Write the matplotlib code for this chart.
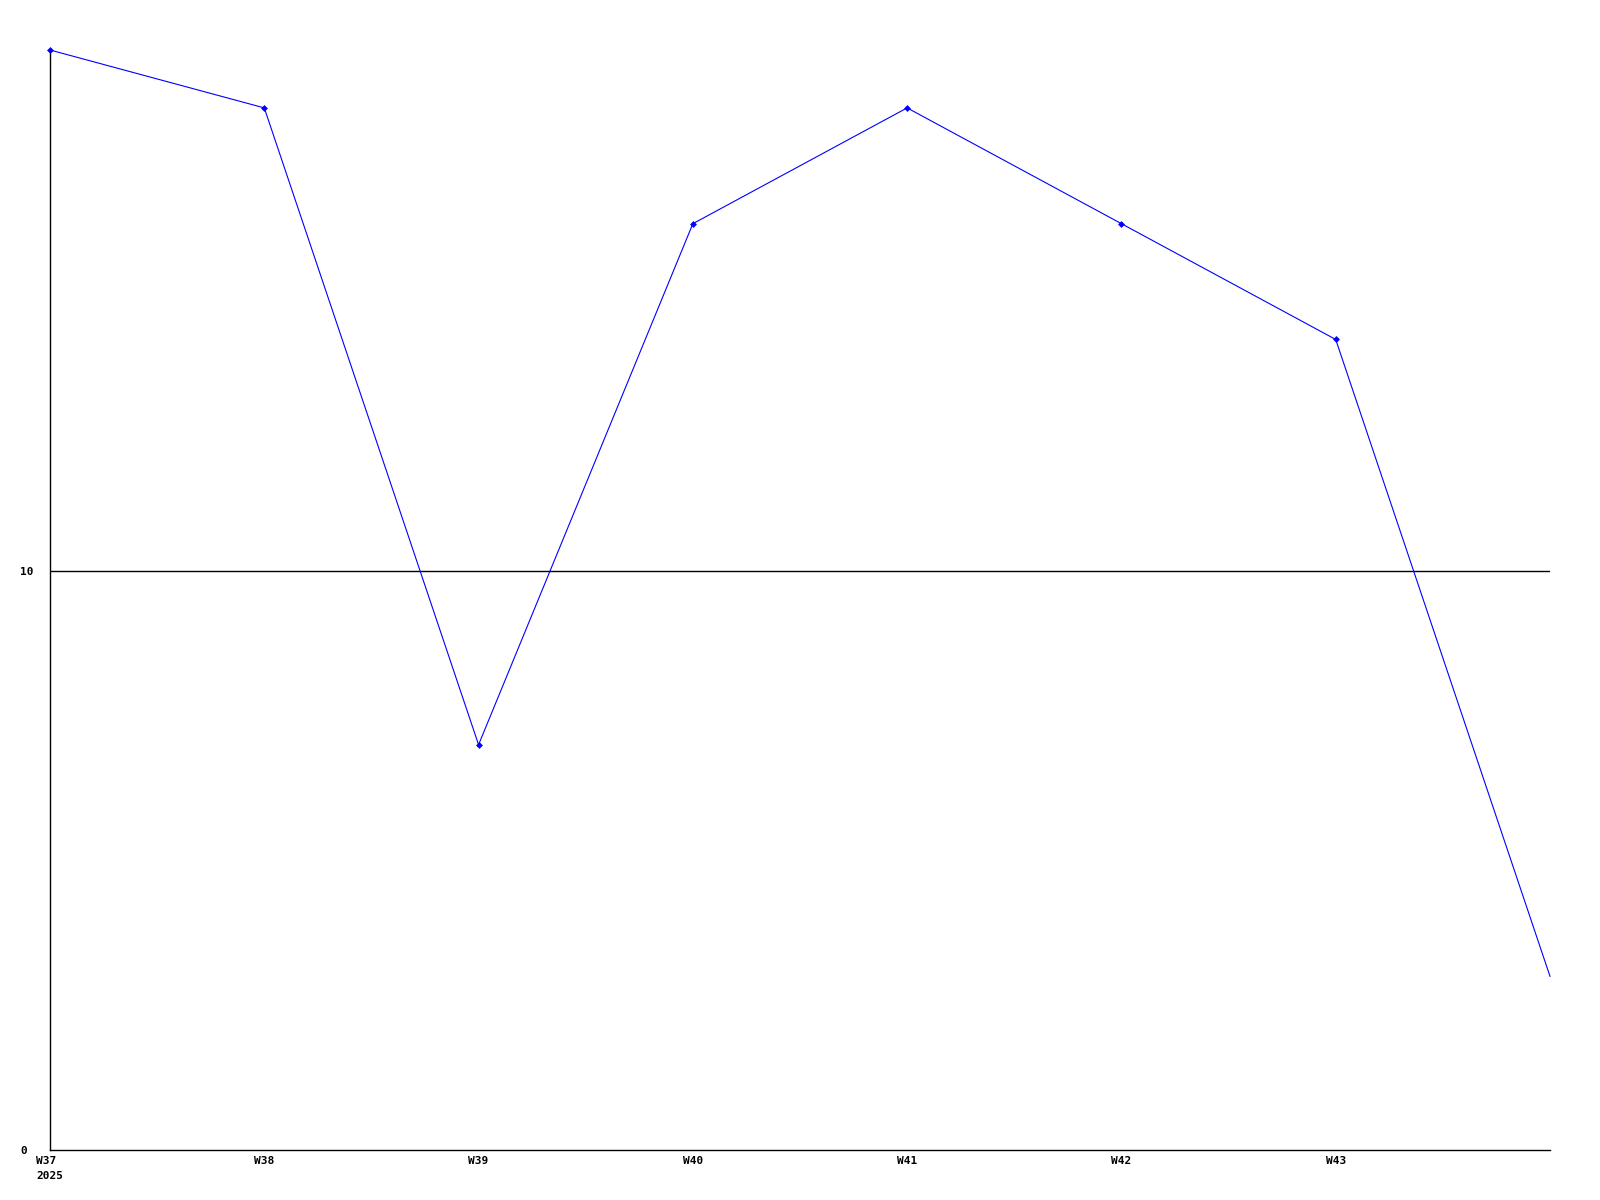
import matplotlib
matplotlib.use("Agg")
import matplotlib.pyplot as plt

weeks = ["W37", "W38", "W39", "W40", "W41", "W42", "W43", "W44"]
values = [19, 18, 7, 16, 18, 16, 14, 3]
tick_labels = ["W37\n2025", "W38", "W39", "W40", "W41", "W42", "W43"]
y_ticks = [0, 10]

fig = plt.figure(figsize=(16, 12), dpi=100)
ax = fig.add_axes([50/1600, 50/1200, 1500/1600, 1100/1200])

x = list(range(len(weeks)))
ax.plot(x, values, color="#0000ff", lw=0.8, marker="D", ms=3,
        markeredgewidth=0.5, markevery=list(range(len(weeks) - 1)),
        clip_on=False, zorder=3)
ax.axhline(10, color="black", lw=1.0, zorder=2)

ax.set_xlim(0, len(weeks) - 1)
ax.set_ylim(0, 19)

for s in ["top", "right"]:
    ax.spines[s].set_visible(False)
for s in ["left", "bottom"]:
    ax.spines[s].set_color("black")
    ax.spines[s].set_linewidth(1.0)

font = dict(family="DejaVu Sans Mono", weight="bold", size=8)
ax.set_xticks(x[:len(tick_labels)])
ax.set_xticklabels(tick_labels, fontdict=font, multialignment="left", linespacing=1.6)
ax.set_yticks(y_ticks)
ax.set_yticklabels([str(v) for v in y_ticks], fontdict=font)
for lbl in ax.get_yticklabels():
    lbl.set_horizontalalignment("left")
ax.tick_params(axis="both", length=0)
ax.tick_params(axis="y", pad=21.6)
ax.tick_params(axis="x", pad=4.5)

fig.savefig("out.png", dpi=100, facecolor="white")
